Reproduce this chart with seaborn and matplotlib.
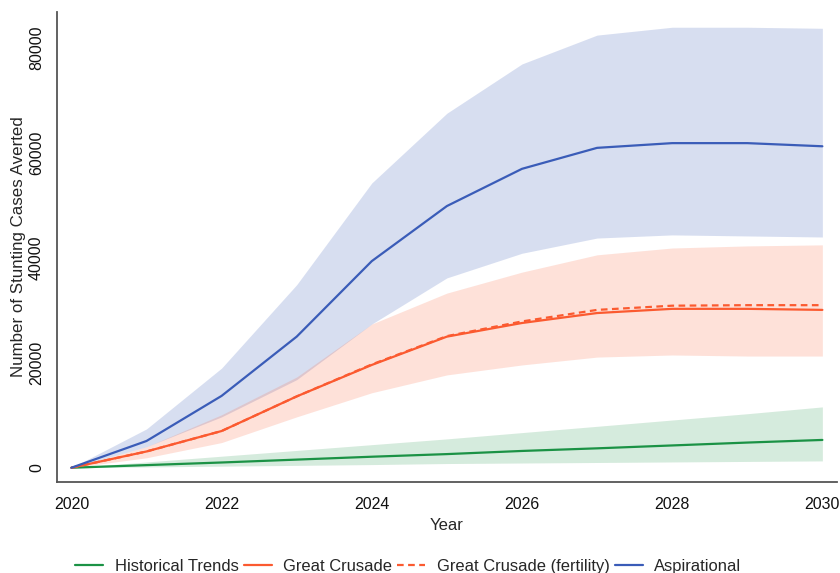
import numpy as np
import pandas as pd
import matplotlib
matplotlib.use("Agg")
import matplotlib.pyplot as plt
import seaborn as sns
from matplotlib.lines import Line2D

years = [2020, 2021, 2022, 2023, 2024, 2025, 2026, 2027, 2028, 2029, 2030]

hist = [0, 500, 1000, 1550, 2100, 2600, 3200, 3700, 4250, 4800, 5300]
hist_lo = [0, 150, 300, 450, 600, 800, 900, 1000, 1100, 1200, 1300]
hist_hi = [0, 1100, 2200, 3300, 4400, 5500, 6700, 7900, 9100, 10300, 11600]

gc = [0, 3100, 7000, 13600, 19600, 25000, 27600, 29500, 30300, 30300, 30100]
gc_fert = [0, 3100, 7000, 13600, 19700, 25100, 27900, 30100, 30900, 31000, 31000]
gc_lo = [0, 1900, 4800, 9700, 14300, 17700, 19600, 21100, 21500, 21300, 21300]
gc_hi = [0, 4000, 10100, 17300, 27400, 33300, 37300, 40600, 41900, 42300, 42500]

asp = [0, 5100, 13700, 25000, 39400, 49900, 57000, 61000, 61900, 61900, 61300]
asp_lo = [0, 4000, 9700, 16800, 27400, 36200, 40900, 43800, 44400, 44200, 44000]
asp_hi = [0, 7400, 19000, 34900, 54300, 67600, 77000, 82500, 84000, 84000, 83800]

labels = ["Historical Trends", "Great Crusade", "Great Crusade (fertility)", "Aspirational"]
c_green = "#1b9245"
c_red = "#fb5a30"
c_blue = "#3a5cb8"

sns.set_style("white")
plt.rcParams["font.family"] = ["Liberation Sans", "DejaVu Sans"]

fig = plt.figure(figsize=(8.4, 5.73), dpi=100)
ax = fig.add_axes([0.068, 0.159, 0.928, 0.82])

ax.fill_between(years, asp_lo, asp_hi, color=c_blue, alpha=0.2, linewidth=0)
ax.fill_between(years, gc_lo, gc_hi, color=c_red, alpha=0.18, linewidth=0)
ax.fill_between(years, hist_lo, hist_hi, color=c_green, alpha=0.18, linewidth=0)

df = pd.DataFrame({
    "Year": years * 4,
    "value": hist + gc + gc_fert + asp,
    "series": sum([[l] * len(years) for l in labels], []),
})

sns.lineplot(data=df[df.series == labels[0]], x="Year", y="value", color=c_green, lw=1.6, ax=ax, legend=False)
sns.lineplot(data=df[df.series == labels[1]], x="Year", y="value", color=c_red, lw=1.6, ax=ax, legend=False)
sns.lineplot(data=df[df.series == labels[2]], x="Year", y="value", color=c_red, lw=1.6, ls=(0, (3, 2)), ax=ax, legend=False)
sns.lineplot(data=df[df.series == labels[3]], x="Year", y="value", color=c_blue, lw=1.6, ax=ax, legend=False)

ax.set_xlim(2019.81, 2030.19)
ax.set_ylim(-2700, 86900)
ax.set_xticks([2020, 2022, 2024, 2026, 2028, 2030])
ax.set_yticks([0, 20000, 40000, 60000, 80000])
ax.set_yticklabels(["0", "20000", "40000", "60000", "80000"])
ax.tick_params(axis="both", length=0, labelsize=11.5, colors="#111111")
ax.tick_params(axis="x", pad=11)
ax.tick_params(axis="y", labelrotation=90, pad=9.5)
for lab in ax.get_yticklabels():
    lab.set_va("center")
ax.set_xlabel("Year", fontsize=12, labelpad=4)
ax.set_ylabel("Number of Stunting Cases Averted", fontsize=12.2, labelpad=2)

for s in ["top", "right"]:
    ax.spines[s].set_visible(False)
for s in ["left", "bottom"]:
    ax.spines[s].set_color("#555555")
    ax.spines[s].set_linewidth(1.3)
ax.grid(False)

handles = [
    Line2D([], [], color=c_green, lw=1.6),
    Line2D([], [], color=c_red, lw=1.6),
    Line2D([], [], color=c_red, lw=1.6, ls=(0, (3, 2))),
    Line2D([], [], color=c_blue, lw=1.6),
]
fig.legend(handles, labels, loc="lower center", bbox_to_anchor=(0.486, -0.028), ncol=4,
           frameon=False, fontsize=11.9, handlelength=1.7, handletextpad=0.7, columnspacing=0.3)

fig.savefig("out.png", dpi=100)
